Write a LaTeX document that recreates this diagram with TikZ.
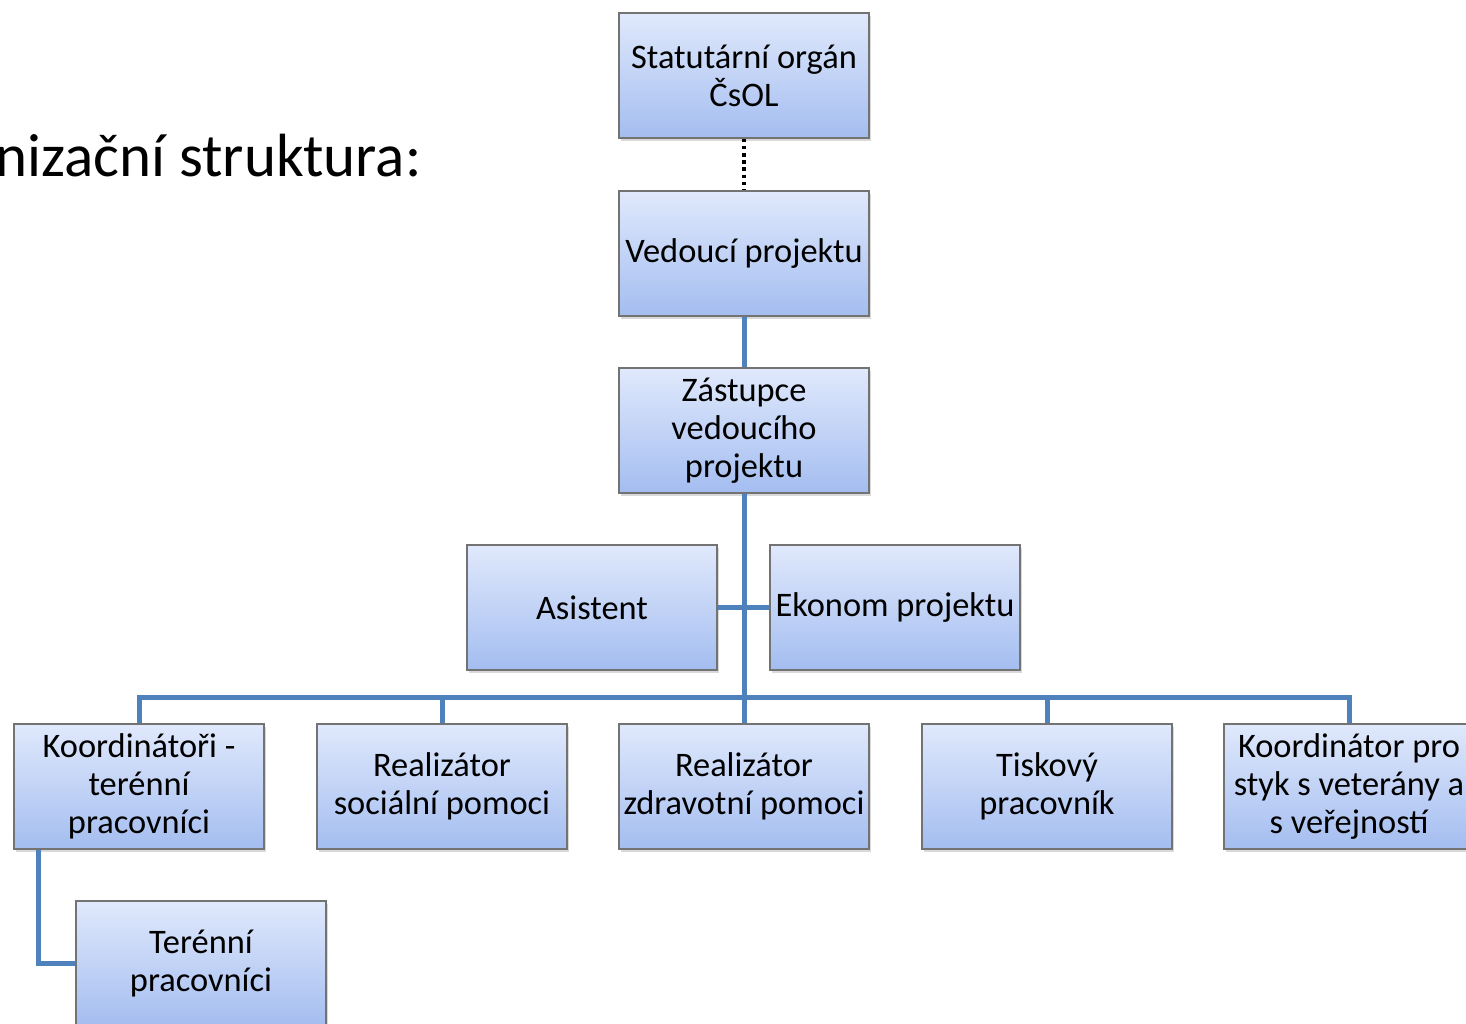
\documentclass[tikz,border=0pt]{standalone}
\usepackage{fontspec}
\setmainfont{Carlito}
\usetikzlibrary{positioning,shadows}

\definecolor{linkblue}{RGB}{79,129,189}
\definecolor{boxtop}{RGB}{224,233,252}
\definecolor{boxbottom}{RGB}{164,189,240}
\definecolor{boxrim}{RGB}{115,115,115}

\begin{document}
\begin{tikzpicture}[x=5pt,y=5pt]
\tikzstyle{every node}+=[inner sep=0pt]
\tikzstyle{unit}=[rectangle, draw=boxrim, line width=0.6pt, top color=boxtop, bottom color=boxbottom,
  minimum width=125pt, minimum height=62.5pt, align=center,
  font=\fontsize{17.2}{19}\selectfont,
  drop shadow={shadow xshift=1.2pt, shadow yshift=-1.5pt, opacity=0.3}]
\tikzstyle{link}=[linkblue, line width=2.5pt]
\tikzstyle{dotlink}=[black, line width=1.8pt, dash pattern=on 1.8pt off 1.8pt]
\useasboundingbox (0,0) rectangle (146.6,-102.3);
\clip (0,0) rectangle (146.6,-102.3);
\node [anchor=base east, font=\fontsize{30.5}{36}\selectfont] (title) at (42.2,-17.6) {nizační struktura:};
\node [unit] (stat) at (74.4,-7.55) {Statutární orgán\\ČsOL};
\node [unit] (ved) at (74.4,-25.35) {Vedoucí projektu};
\node [unit] (zas) at (74.4,-43.05) {Zástupce\\vedoucího\\projektu};
\node [unit] (asi) at (59.2,-60.75) {Asistent};
\node [unit] (eko) at (89.5,-60.75) {Ekonom projektu};
\node [unit] (koord) at (13.9,-78.65) {Koordinátoři -\\terénní\\pracovníci};
\node [unit] (soc) at (44.2,-78.65) {Realizátor\\sociální pomoci};
\node [unit] (zdr) at (74.4,-78.65) {Realizátor\\zdravotní pomoci};
\node [unit] (tisk) at (104.7,-78.65) {Tiskový\\pracovník};
\node [unit] (vet) at (134.9,-78.65) {Koordinátor pro\\styk s veterány a\\s veřejností};
\node [unit] (ter) at (20.1,-96.35) {Terénní\\pracovníci};
\coordinate (bus) at (74.4,-69.7);
\begin{scope}[on background layer/.try]
\draw [dotlink] (stat) -- (ved);
\draw [link] (ved) -- (zas);
\draw [link] (zas) -- (zdr);
\draw [link] (asi) -- (eko);
\draw [link] (koord.north) |- (bus) -| (vet.north);
\draw [link] (soc.north) -- (soc.north |- bus);
\draw [link] (tisk.north) -- (tisk.north |- bus);
\draw [link] ([xshift=12.5pt]koord.south west) |- (ter.west);
\end{scope}
\end{tikzpicture}
\end{document}
